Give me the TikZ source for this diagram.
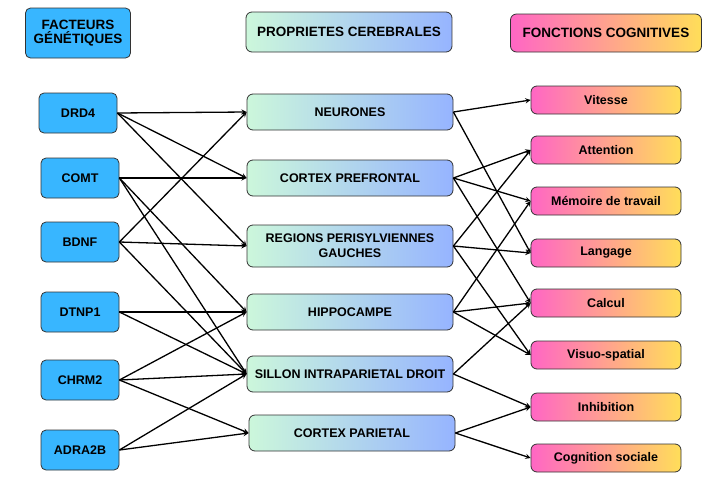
\documentclass[tikz,border=0pt]{standalone}
\usepackage{fontspec}
\setmainfont{Liberation Sans}
\begin{document}
\begin{tikzpicture}[x=1pt,y=-1pt,
  gen/.style={draw=black!80,line width=0.8pt,rounded corners=5pt,fill={rgb,255:red,56;green,182;blue,255},minimum width=78pt,minimum height=40pt,font=\bfseries\fontsize{12.5}{14}\selectfont,align=center},
  prop/.style={draw=black!80,line width=0.8pt,rounded corners=6pt,left color={rgb,255:red,204;green,247;blue,219},right color={rgb,255:red,150;green,180;blue,255},minimum width=206pt,minimum height=36pt,font=\bfseries\fontsize{12.5}{14}\selectfont,align=center},
  fonc/.style={draw=black!80,line width=0.8pt,rounded corners=6pt,left color={rgb,255:red,255;green,102;blue,196},right color={rgb,255:red,255;green,222;blue,89},minimum width=150pt,minimum height=28pt,font=\bfseries\fontsize{12.5}{14}\selectfont},
  arr/.style={-stealth,line width=1.3pt}]
\useasboundingbox (0,0) rectangle (724,491);
\node[gen,minimum width=105pt,minimum height=50pt,font=\bfseries\fontsize{13.5}{14}\selectfont] (h1) at (78,33) {FACTEURS\\GÉNÉTIQUES};
\node[prop,minimum height=40pt,font=\bfseries\fontsize{13.5}{15}\selectfont] (h2) at (349,32) {PROPRIETES CEREBRALES};
\node[fonc,minimum width=191pt,minimum height=38pt,font=\bfseries\fontsize{13.5}{15}\selectfont] (h3) at (606,33) {FONCTIONS COGNITIVES};
\node[gen] (g1) at (78,113) {DRD4};
\node[gen] (g2) at (80,178) {COMT};
\node[gen] (g3) at (80,242) {BDNF};
\node[gen] (g4) at (80,312) {DTNP1};
\node[gen] (g5) at (80,380) {CHRM2};
\node[gen] (g6) at (80,450) {ADRA2B};
\node[prop] (p1) at (350,112) {NEURONES};
\node[prop] (p2) at (350,178) {CORTEX PREFRONTAL};
\node[prop,minimum height=42pt] (p3) at (350,246) {REGIONS PERISYLVIENNES\\[1pt]GAUCHES};
\node[prop] (p4) at (350,312) {HIPPOCAMPE};
\node[prop] (p5) at (350,374) {SILLON INTRAPARIETAL DROIT};
\node[prop] (p6) at (352,433) {CORTEX PARIETAL};
\node[fonc] (f1) at (606,100) {Vitesse};
\node[fonc] (f2) at (606,150) {Attention};
\node[fonc] (f3) at (606,201) {Mémoire de travail};
\node[fonc] (f4) at (606,253) {Langage};
\node[fonc] (f5) at (606,303) {Calcul};
\node[fonc] (f6) at (606,355) {Visuo-spatial};
\node[fonc] (f7) at (606,407) {Inhibition};
\node[fonc] (f8) at (606,458) {Cognition sociale};
\foreach \a/\b in {g1/p1,g1/p2,g1/p3,g2/p2,g2/p4,g2/p5,g3/p1,g3/p3,g3/p5,g4/p4,g4/p5,g5/p4,g5/p5,g5/p6,g6/p5,g6/p6}
  \draw[arr] (\a.east) -- (\b.west);
\foreach \a/\b in {p1/f1,p1/f4,p2/f2,p2/f3,p2/f5,p3/f2,p3/f4,p3/f6,p4/f3,p4/f5,p4/f6,p5/f5,p5/f7,p6/f7,p6/f8}
  \draw[arr] (\a.east) -- (\b.west);
\end{tikzpicture}
\end{document}
